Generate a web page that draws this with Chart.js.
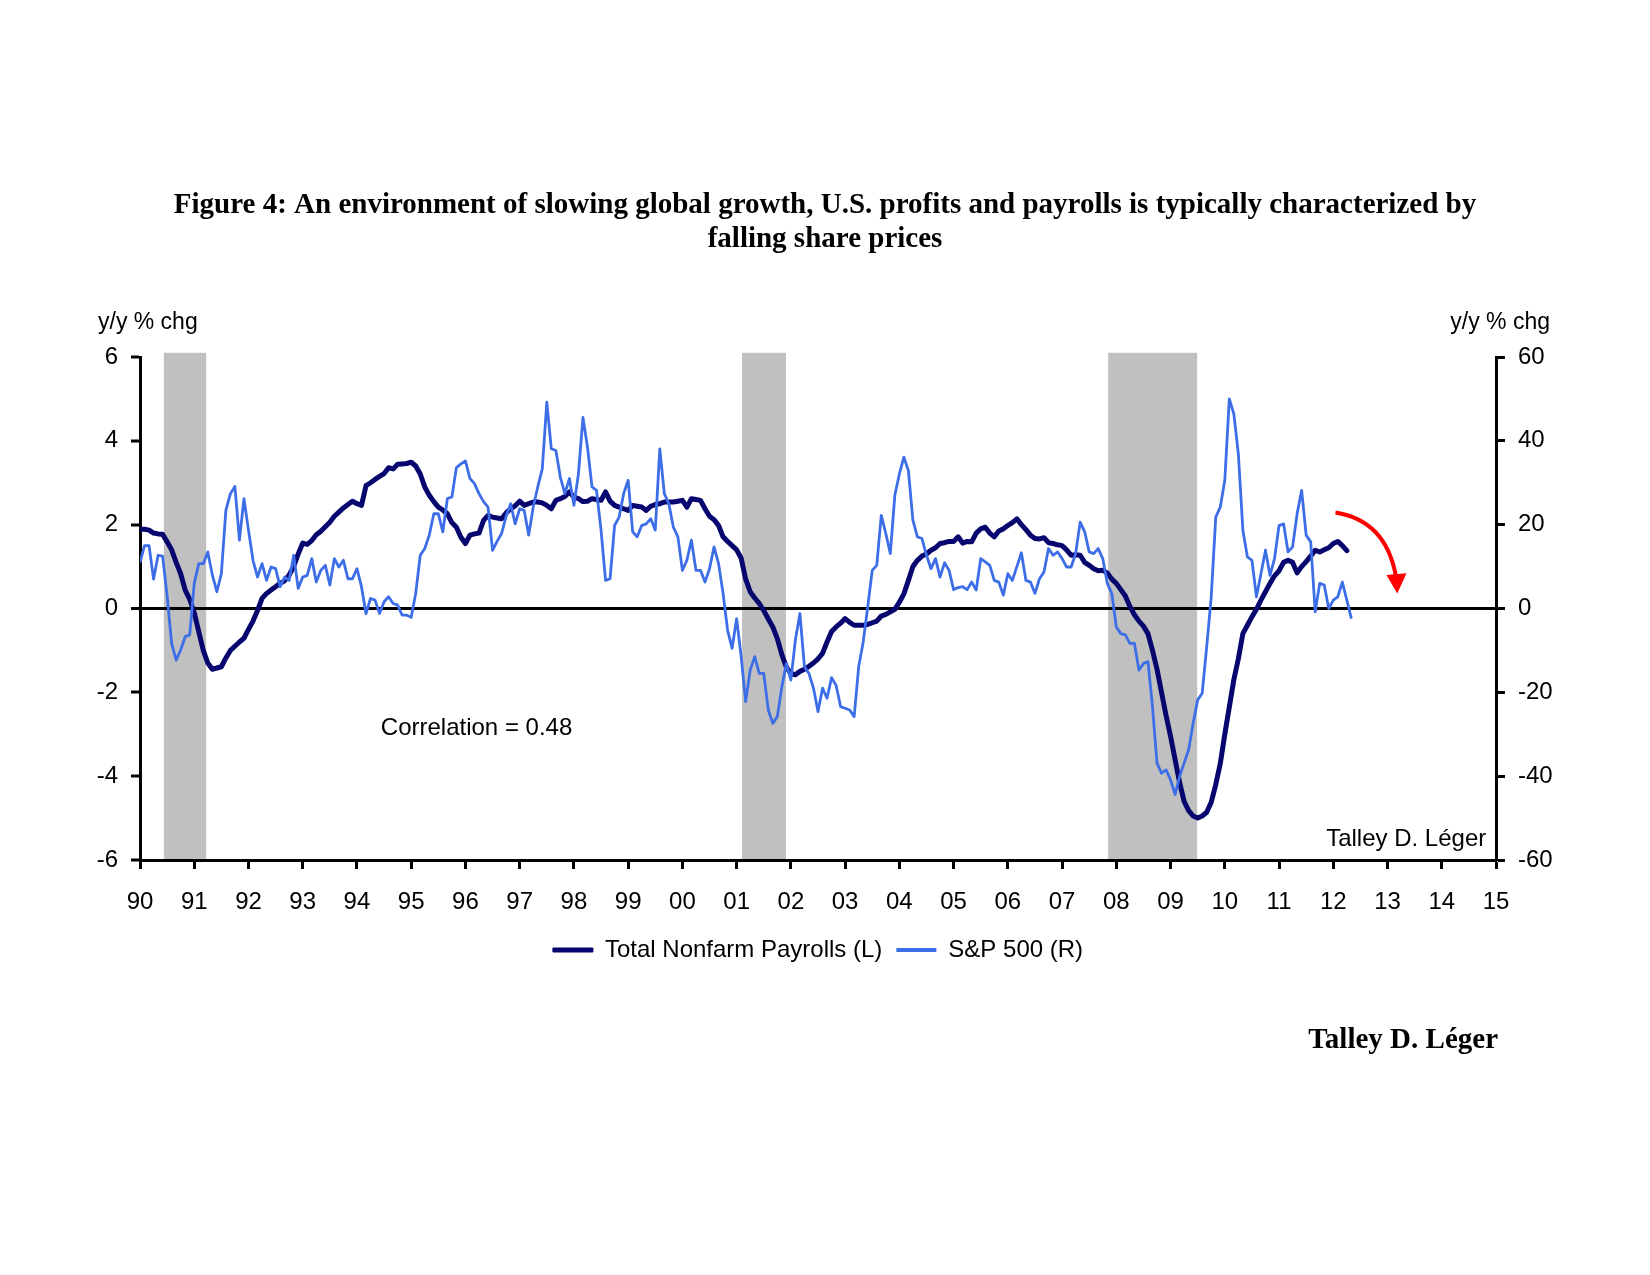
<!DOCTYPE html>
<html><head><meta charset="utf-8">
<script src="https://cdn.jsdelivr.net/npm/chart.js@4.4.1/dist/chart.umd.min.js"></script>
<style>html,body{margin:0;padding:0;background:#fff;}#wrap{width:1650px;height:1275px;}</style>
</head><body><div id="wrap"><canvas id="c" width="1650" height="1275"></canvas></div>
<script>
// ---- DATA (monthly, starting Jan 1990) ----
const startYear = 1990;
const seriesNames = ['Total Nonfarm Payrolls (L)', 'S&P 500 (R)'];
const payrolls = [
 1.89,1.89,1.87,1.80,1.78,1.77,1.59,1.40,1.10,0.83,0.44,0.22,
 -0.10,-0.55,-1.00,-1.30,-1.45,-1.42,-1.39,-1.18,-1.00,-0.90,-0.80,-0.71,
 -0.50,-0.30,-0.05,0.24,0.36,0.44,0.52,0.60,0.66,0.80,1.00,1.30,
 1.56,1.53,1.62,1.76,1.84,1.95,2.06,2.20,2.30,2.40,2.48,2.56,
 2.50,2.46,2.93,3.00,3.08,3.15,3.22,3.36,3.33,3.44,3.45,3.46,
 3.49,3.40,3.21,2.90,2.70,2.55,2.42,2.35,2.26,2.05,1.94,1.70,
 1.55,1.75,1.78,1.80,2.10,2.22,2.18,2.16,2.14,2.28,2.38,2.45,
 2.56,2.46,2.50,2.54,2.54,2.52,2.46,2.38,2.58,2.62,2.67,2.78,
 2.66,2.62,2.55,2.56,2.62,2.60,2.58,2.78,2.56,2.46,2.42,2.38,
 2.34,2.46,2.44,2.42,2.34,2.44,2.48,2.50,2.54,2.54,2.54,2.56,
 2.58,2.42,2.62,2.60,2.58,2.38,2.20,2.12,1.98,1.71,1.60,1.50,
 1.40,1.20,0.70,0.40,0.25,0.12,-0.05,-0.25,-0.44,-0.72,-1.10,-1.40,
 -1.55,-1.58,-1.50,-1.45,-1.38,-1.30,-1.20,-1.07,-0.80,-0.55,-0.44,-0.35,
 -0.24,-0.33,-0.40,-0.40,-0.40,-0.38,-0.34,-0.30,-0.18,-0.14,-0.08,-0.02,
 0.15,0.35,0.67,1.00,1.15,1.25,1.30,1.39,1.45,1.55,1.57,1.60,
 1.60,1.71,1.56,1.60,1.59,1.80,1.90,1.94,1.80,1.71,1.85,1.90,
 1.98,2.05,2.14,2.00,1.88,1.75,1.67,1.66,1.69,1.57,1.55,1.52,
 1.50,1.40,1.27,1.28,1.27,1.10,1.03,0.95,0.90,0.91,0.85,0.70,
 0.60,0.45,0.30,0.05,-0.15,-0.30,-0.42,-0.60,-1.00,-1.45,-2.00,-2.55,
 -3.05,-3.60,-4.15,-4.60,-4.82,-4.95,-5.00,-4.95,-4.86,-4.62,-4.20,-3.70,
 -3.00,-2.35,-1.70,-1.20,-0.60,-0.40,-0.20,-0.02,0.20,0.40,0.60,0.78,
 0.90,1.10,1.15,1.10,0.85,1.00,1.12,1.25,1.39,1.35,1.40,1.45,
 1.55,1.60,1.50,1.38
];
const sp500 = [
 11,15,15,7,12.7,12.5,3,-8.3,-12.3,-9.9,-6.7,-6.3,
 6,10.7,10.7,13.5,8,4,8.3,23.4,27.4,29.1,16.3,26.2,
 18.7,11.5,7.5,10.7,6.7,9.9,9.5,5.2,7.5,6.7,12.7,4.8,
 7.5,7.9,11.9,6.3,9.1,10.3,5.6,11.9,9.9,11.5,7.1,7.1,
 9.5,5.2,-1.2,2.4,2.0,-1.2,1.6,2.8,1.2,0.8,-1.6,-1.6,
 -2.1,3.6,12.7,14.3,17.5,22.6,22.6,18.3,26.2,26.6,33.6,34.5,
 35.2,31.0,29.8,27.4,25.5,24.2,13.9,16,17.9,22,25.0,20.2,
 23.8,23.4,17.5,24.2,29.0,33.3,49.2,38.1,37.7,31.3,27.4,31.0,
 24.6,32.1,45.6,38.5,29.0,28.2,18.7,6.7,7.1,19.8,21.8,27.4,
 30.6,18.3,17.1,19.8,20.2,21.4,18.7,38.1,27.4,25.0,19.4,17.1,
 9.1,11.5,16.3,9.1,9.1,6.3,9.5,14.7,10.7,3.6,-5.2,-9.5,
 -2.4,-11.5,-22.2,-14.7,-11.5,-15.5,-15.5,-24.2,-27.4,-25.8,-18.7,-13.1,
 -17.1,-7.5,-1.2,-13.9,-15.5,-19,-24.6,-19.0,-21.4,-16.5,-18.3,-23.4,
 -23.8,-24.2,-25.8,-13.9,-8,0.4,9.1,10.3,22.2,17.9,13.1,27.0,
 32.1,36.1,32.9,21.0,17.1,16.7,12.7,9.5,11.9,7.5,10.9,9.1,
 4.5,5.0,5.2,4.5,6.3,4.4,11.9,11.1,10.3,6.7,6.3,3.2,
 8.3,6.7,10,13.3,6.7,6.3,3.6,7.1,8.7,14.3,12.7,13.5,
 11.9,9.9,9.9,13.1,20.6,18.3,13.5,13.1,14.3,11.9,6.0,3.6,
 -4.4,-6.0,-6.3,-8.3,-8.3,-14.7,-13.1,-12.7,-23.4,-36.9,-39.3,-38.5,
 -40.9,-44.4,-40.1,-36.9,-33.7,-27.4,-21.8,-20.2,-9.1,2.8,21.8,24.2,
 30.6,50.0,46.4,36.9,18.7,12.3,11.5,2.8,8.3,13.9,7.9,11.9,
 19.8,20.2,13.5,14.7,22.6,28.2,17.5,15.9,-0.8,6.0,5.6,0,
 2.0,2.8,6.3,2.0,-2.4
];
const recessions = [[1990.44, 1991.22], [2001.10, 2001.91], [2007.85, 2009.49]];
const xTickLabels = ['90','91','92','93','94','95','96','97','98','99','00','01','02','03','04','05','06','07','08','09','10','11','12','13','14','15'];
const leftTicks = [-6,-4,-2,0,2,4,6];
const rightTicks = [-60,-40,-20,0,20,40,60];
const titleLines = ['Figure 4: An environment of slowing global growth, U.S. profits and payrolls is typically characterized by', 'falling share prices'];
const axisUnit = 'y/y % chg';
const corrText = 'Correlation = 0.48';
const author = 'Talley D. Léger';

// ---- STYLE ----
const NAVY = '#06066e';
const BLUE = '#3d6ee8';
const SANS = '"Liberation Sans", Arial, sans-serif';
const SERIF = '"Liberation Serif", "Times New Roman", serif';

const toPts = arr => arr.map((v, i) => ({x: startYear + i / 12, y: v}));

const decor = {
  id: 'decor',
  beforeDraw(chart) {
    const {ctx, chartArea: ca, scales: {x, y}} = chart;
    ctx.save();
    ctx.fillStyle = '#c0c0c0';
    const top = y.getPixelForValue(6.1);
    recessions.forEach(([a, b]) => {
      const x1 = x.getPixelForValue(a), x2 = x.getPixelForValue(b);
      ctx.fillRect(x1, top, x2 - x1, ca.bottom - top);
    });
    ctx.restore();
  },
  afterDraw(chart) {
    const {ctx, scales: {x, y}} = chart;
    ctx.save();
    ctx.fillStyle = '#000';
    ctx.textBaseline = 'middle';
    ctx.font = 'bold 29px ' + SERIF;
    ctx.textAlign = 'center';
    ctx.fillText(titleLines[0], 825, 206);
    ctx.fillText(titleLines[1], 825, 240);
    ctx.font = '23px ' + SANS;
    ctx.textAlign = 'left';
    ctx.fillText(axisUnit, 98, 323);
    ctx.textAlign = 'right';
    ctx.fillText(axisUnit, 1550, 323);
    ctx.font = '24px ' + SANS;
    ctx.textAlign = 'left';
    ctx.fillText(corrText, x.getPixelForValue(1994.44), y.getPixelForValue(-2.87));
    ctx.textAlign = 'right';
    ctx.fillText(author, x.getPixelForValue(2014.82), y.getPixelForValue(-5.5));
    ctx.font = 'bold 29px ' + SERIF;
    ctx.fillText(author, 1498, 1041);
    // red arrow
    const P = (a, b) => [x.getPixelForValue(a), y.getPixelForValue(b)];
    const s = P(2012.04, 2.29), c = P(2012.96, 2.10), e = P(2013.15, 0.80);
    ctx.strokeStyle = '#ff0000';
    ctx.lineWidth = 4;
    ctx.beginPath();
    ctx.moveTo(s[0], s[1]);
    ctx.quadraticCurveTo(c[0], c[1], e[0], e[1]);
    ctx.stroke();
    const h1 = P(2012.98, 0.80), h2 = P(2013.35, 0.84), tip = P(2013.18, 0.36);
    ctx.fillStyle = '#ff0000';
    ctx.beginPath();
    ctx.moveTo(h1[0], h1[1]); ctx.lineTo(h2[0], h2[1]); ctx.lineTo(tip[0], tip[1]);
    ctx.closePath(); ctx.fill();
    ctx.restore();
  }
};

new Chart(document.getElementById('c'), {
  type: 'line',
  data: {
    datasets: [
      {label: seriesNames[0], data: toPts(payrolls), yAxisID: 'y', borderColor: NAVY, backgroundColor: NAVY,
       borderWidth: 5, pointRadius: 0, tension: 0, order: 1, borderJoinStyle: 'round', borderCapStyle: 'round'},
      {label: seriesNames[1], data: toPts(sp500), yAxisID: 'y2', borderColor: BLUE, backgroundColor: BLUE,
       borderWidth: 2.8, pointRadius: 0, tension: 0, order: 0, borderJoinStyle: 'round'}
    ]
  },
  options: {
    responsive: false,
    animation: false,
    devicePixelRatio: 1,
    layout: {padding: {top: 357, bottom: 303, left: 0, right: 14}},
    plugins: {
      tooltip: {enabled: false},
      legend: {
        position: 'bottom',
        labels: {
          font: {family: SANS, size: 24},
          color: '#000',
          boxWidth: 40,
          boxHeight: 4,
          padding: 14,
          generateLabels(chart) {
            return chart.data.datasets.map((d, i) => ({
              text: d.label, fillStyle: d.borderColor, strokeStyle: d.borderColor,
              lineWidth: i === 0 ? 1 : 0, datasetIndex: i, hidden: false, fontColor: '#000'
            }));
          }
        }
      }
    },
    scales: {
      x: {
        type: 'linear', min: 1990, max: 2015,
        afterFit(s) { s.height = 64; },
        ticks: {stepSize: 1, autoSkip: false, maxRotation: 0, padding: 19, color: '#000',
          font: {family: SANS, size: 24},
          callback: v => xTickLabels[Math.round(v - startYear)]},
        grid: {display: true, drawOnChartArea: false, tickLength: 9, tickWidth: 3, tickColor: '#000'},
        border: {display: true, color: '#000', width: 3}
      },
      y: {
        type: 'linear', position: 'left', min: -6, max: 6,
        afterFit(s) { s.width = 140; },
        afterBuildTicks(s) { s.ticks = leftTicks.map(v => ({value: v})); },
        ticks: {padding: 13, color: '#000', font: {family: SANS, size: 24}},
        grid: {
          drawOnChartArea: true, tickLength: 9, tickWidth: 3, tickColor: '#000',
          color: c => (c.tick && c.tick.value === 0) ? '#000' : 'rgba(0,0,0,0)',
          lineWidth: c => (c.tick && c.tick.value === 0) ? 3 : 0
        },
        border: {display: true, color: '#000', width: 3}
      },
      y2: {
        type: 'linear', position: 'right', min: -60, max: 60,
        afterFit(s) { s.width = 140; },
        afterBuildTicks(s) { s.ticks = rightTicks.map(v => ({value: v})); },
        ticks: {padding: 13, color: '#000', font: {family: SANS, size: 24}},
        grid: {drawOnChartArea: false, tickLength: 9, tickWidth: 3, tickColor: '#000'},
        border: {display: true, color: '#000', width: 3}
      }
    }
  },
  plugins: [decor]
});
</script></body></html>
